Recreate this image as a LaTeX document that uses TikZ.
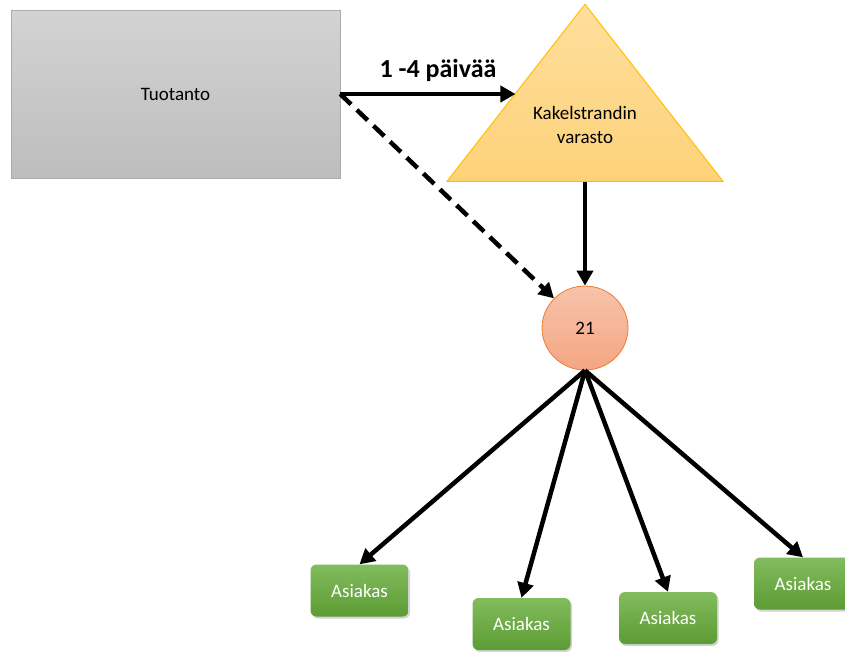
\documentclass[tikz,border=0pt]{standalone}
\usepackage{fontspec}
\setmainfont{Carlito}
\usepackage{tikz}
\usetikzlibrary{arrows.meta,shapes,positioning,shadows}
\definecolor{tuotyla}{HTML}{D3D3D3}
\definecolor{tuotala}{HTML}{BDBDBD}
\definecolor{varyla}{HTML}{FEDF9C}
\definecolor{varala}{HTML}{FDD27A}
\definecolor{varreuna}{HTML}{FFC000}
\definecolor{hubyla}{HTML}{F7C3AA}
\definecolor{hubala}{HTML}{F4A682}
\definecolor{hubreuna}{HTML}{ED7D31}
\definecolor{asyla}{HTML}{82BC5E}
\definecolor{asala}{HTML}{5C9C33}
\tikzset{
	basic/.style    = {font=\fontsize{19}{24}\selectfont, align=center, inner sep=0pt},
	tuote/.style    = {basic, rectangle, draw=gray!65, top color=tuotyla,
		bottom color=tuotala, minimum width=329pt, minimum height=168pt},
	varasto/.style  = {basic, isosceles triangle, isosceles triangle stretches,
		shape border rotate=90, draw=varreuna, line width=1pt, top color=varyla,
		bottom color=varala, minimum width=276pt, minimum height=177pt},
	jakelu/.style   = {basic, ellipse, draw=hubreuna, line width=0.8pt, top color=hubyla,
		bottom color=hubala, minimum width=86pt, minimum height=84pt},
	asiakas/.style  = {basic, rectangle, rounded corners=6pt, text=white,
		top color=asyla, bottom color=asala, minimum width=98pt, minimum height=52pt,
		drop shadow={shadow xshift=1.5pt, shadow yshift=-2pt, opacity=0.35}}
}

\begin{document}
\begin{tikzpicture}[x=1pt, y=-1pt,
line/.style={line width=4.5pt},
>={Triangle[length=15pt,width=16pt]}]
\useasboundingbox (0,0) rectangle (845,651);

% tuotanto ja varasto
\node[tuote] (tuot) at (175.5,94) {Tuotanto};
\node[varasto, anchor=apex] (vara) at (585,3) {};
\node[basic] (varateksti) at (585,125) {Kakelstrandin\\varasto};
\node[basic, font=\fontsize{26}{30}\selectfont\bfseries] (aika) at (438,70) {1 -4 päivää};

% jakelupiste
\node[jakelu] (hub) at (585,328) {21};

% asiakkaat
\node[asiakas] (as1) at (359.5,590.5) {Asiakas};
\node[asiakas] (as2) at (521.5,624) {Asiakas};
\node[asiakas] (as3) at (668,618) {Asiakas};
\node[asiakas] (as4) at (803,583.5) {Asiakas};

\draw[line,->] (tuot.east) -- (tuot.east -| vara.left side);
\draw[line,->,dash pattern=on 15pt off 8pt] (tuot.east) -- (hub);
\draw[line,->] (vara.lower side) -- (hub.north);
\foreach \a in {as1,as2,as3,as4}
	\draw[line,->] (hub.south) -- (\a.north);

\end{tikzpicture}
\end{document}
